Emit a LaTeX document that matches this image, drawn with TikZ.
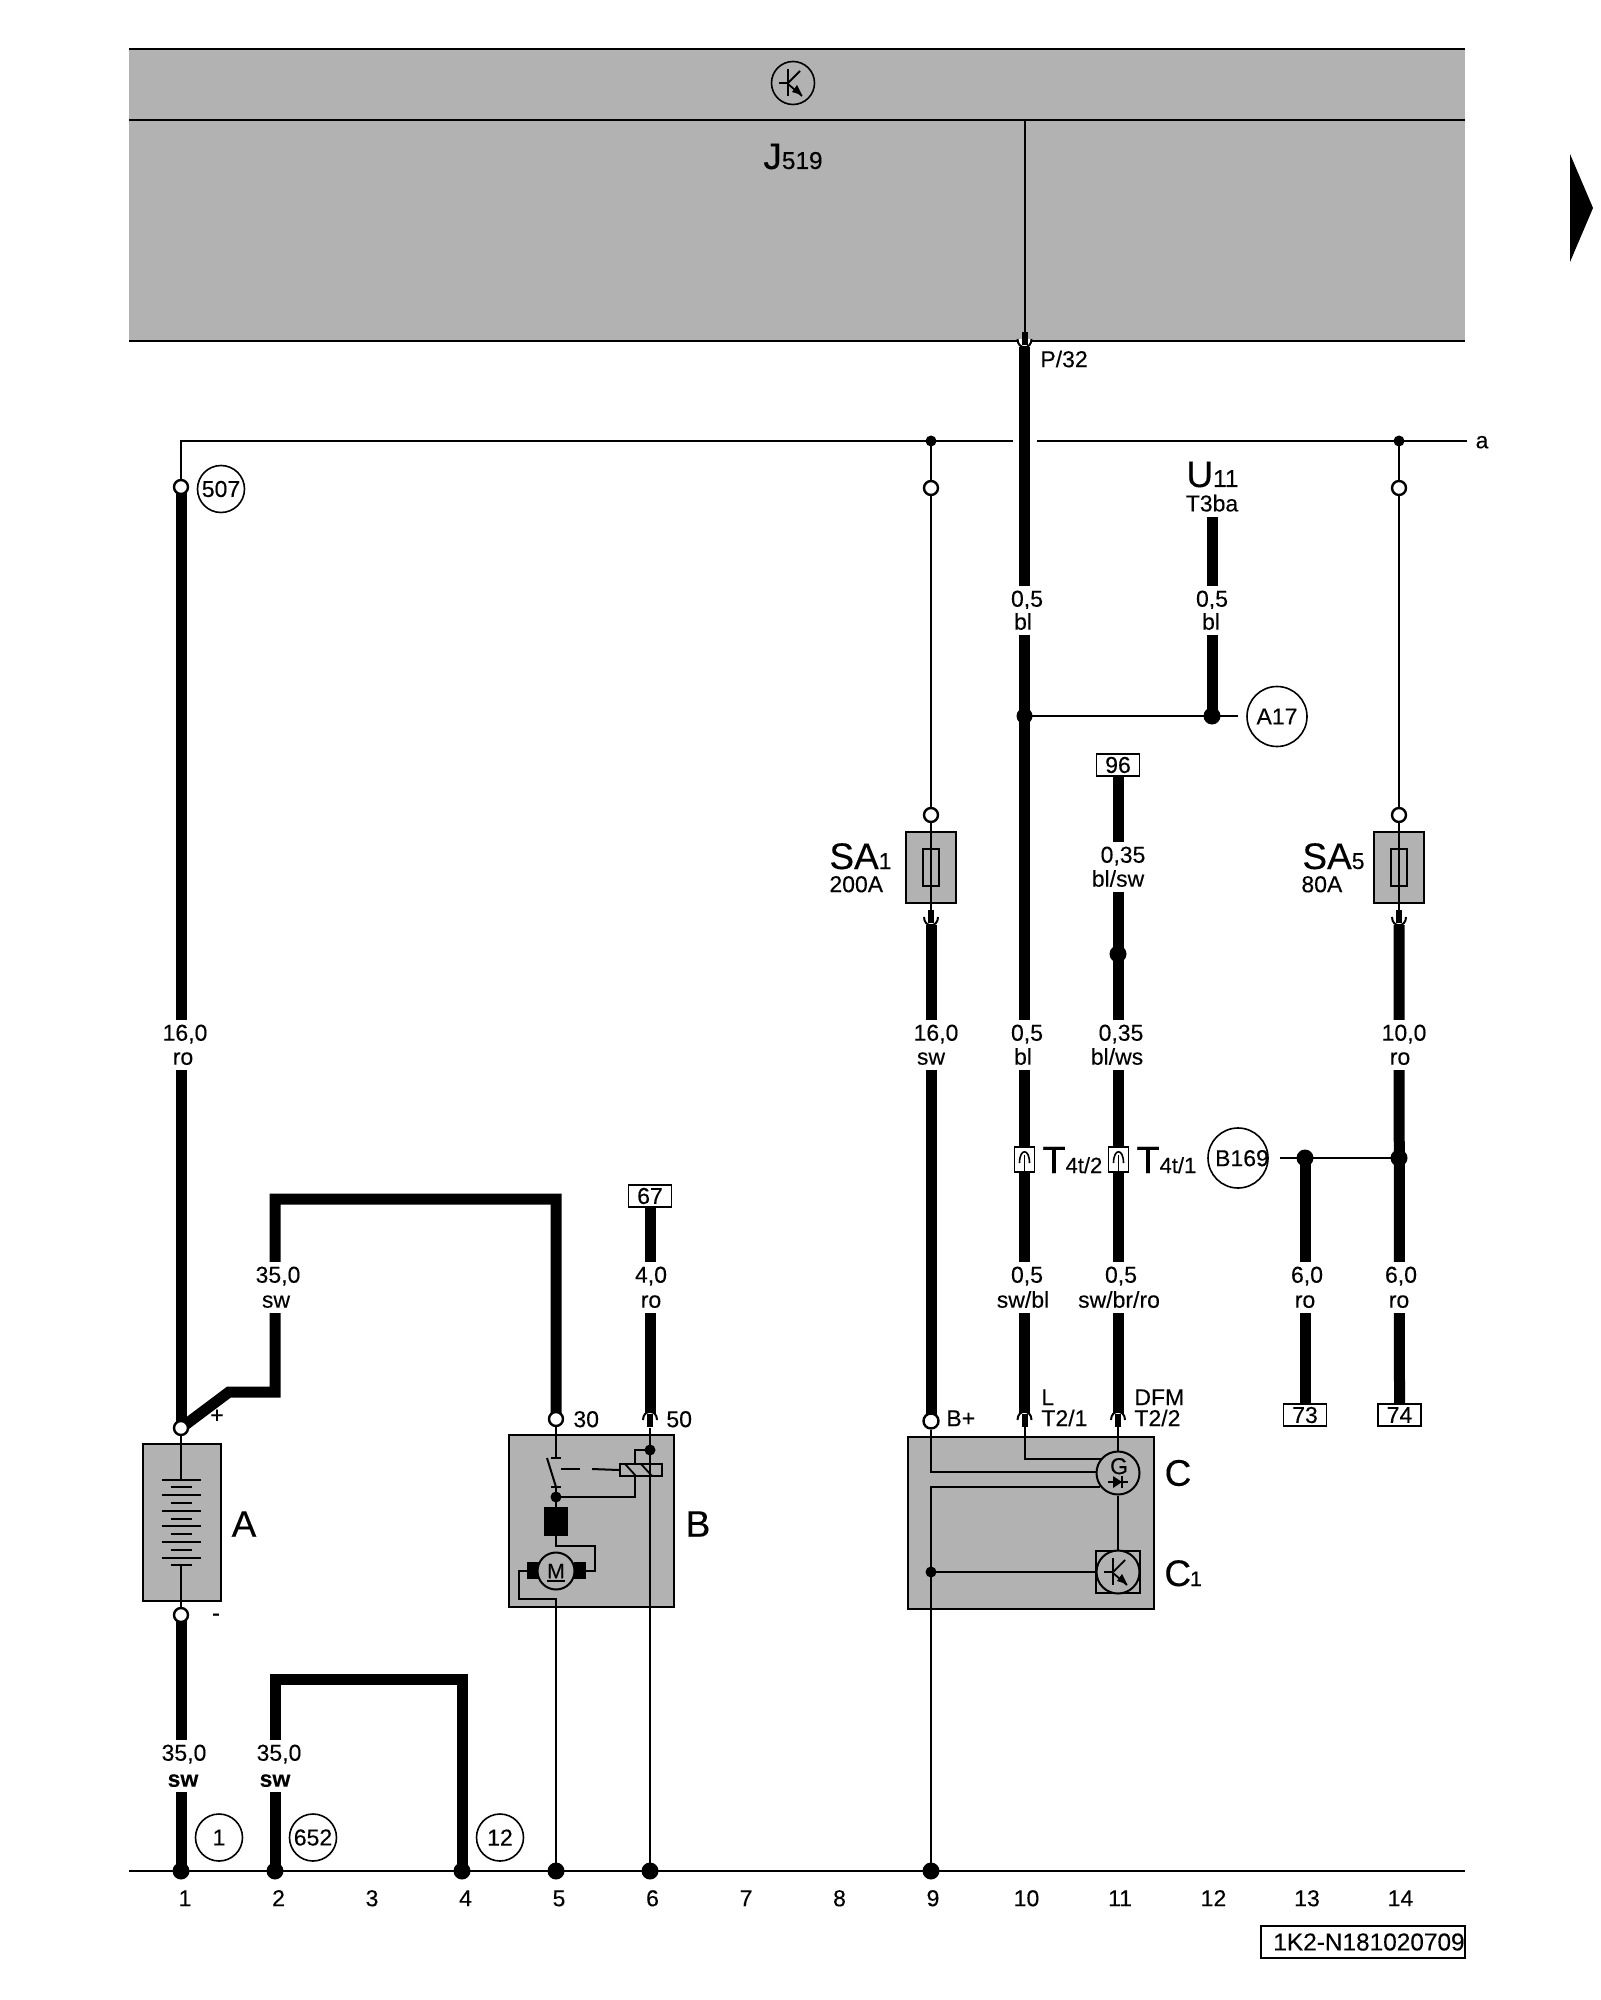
\documentclass[tikz,border=0pt]{standalone}
\usepackage{fontspec}
\setmainfont[FakeBold=0.2]{Liberation Sans}
\pgfdeclarelayer{bg}
\pgfdeclarelayer{wires}
\pgfsetlayers{bg,wires,main}
\definecolor{panel}{HTML}{B2B2B2}
\newcommand{\txtf}{\fontsize{11.5}{12.5}\selectfont}
\newcommand{\subf}{\fontsize{11}{12}\selectfont}
\newcommand{\bigf}{\fontsize{18.5}{20}\selectfont}
\tikzset{
  x=0.5pt,y=-0.5pt,
  thin wire/.style={line width=1pt,line cap=butt},
  thick wire/.style={line width=5.5pt,line cap=butt,miter limit=10},
  graybox/.style={draw=black,fill=panel,line width=1pt,inner sep=0pt},
  term/.style={circle,draw=black,fill=white,line width=1.2pt,inner sep=0pt,minimum size=7pt},
  jdot/.style={circle,fill=black,inner sep=0pt,minimum size=5.5pt},
  bdot/.style={circle,fill=black,inner sep=0pt,minimum size=8.5pt},
  refc/.style={circle,draw=black,fill=white,line width=.8pt,inner sep=0pt,minimum size=23.5pt,font=\txtf},
  bigc/.style={circle,draw=black,fill=white,line width=.8pt,inner sep=0pt,minimum size=30pt,font=\txtf},
  wl/.style={fill=white,inner xsep=0.5pt,inner ysep=.75pt,text height=9.5pt,text depth=2pt,font=\txtf,yshift=-.6pt},
  lbl/.style={inner sep=0pt,font=\txtf,yshift=-.6pt},
  big/.style={inner sep=0pt,font=\bigf,anchor=base west},
  tagbox/.style={draw=black,fill=white,line width=.9pt,inner sep=0pt,font=\txtf,minimum height=11pt},
  sym/.style={line width=.9pt,draw=black},
}
\newcommand{\WL}[7]{% name, x1, y1, text1, x2, y2, text2
  \node[wl] (#1a) at (#2,#3) {#4};
  \node[wl,yshift=.5pt] (#1b) at (#5,#6) {#7};}
\newcommand{\arch}[3]{% x, y, dir: 1 arch up, -1 cup
  \begin{scope}[shift={(#1,#2)},yscale=#3]
    \fill[white] (-7,4) .. controls (-7,-7) and (7,-7) .. (7,4) -- cycle;
    \draw[line width=1pt,black] (-7,4) .. controls (-7,-7) and (7,-7) .. (7,4);
    \fill[black] (-3,-2) rectangle (3,11);
  \end{scope}}
\newcommand{\transis}[2]{%
  \begin{scope}[shift={(#1,#2)}]
    \draw[sym] (-14,0) -- (-5,0);
    \draw[line width=1.1pt] (-5,-14) -- (-5,13);
    \draw[sym] (-5,0) -- (7,-12);
    \draw[sym] (-5,1) -- (9,13);
    \fill[black] (9,12) -- (-1,9) -- (4,2) -- cycle;
  \end{scope}}
\begin{document}
\begin{tikzpicture}
\useasboundingbox (0,0) rectangle (1600,2000);
\begin{pgfonlayer}{bg}
  \fill[white] (0,0) rectangle (1600,2000);
  \fill[panel] (129,49) rectangle (1465,341);
  \draw[line width=1.3pt] (129,49) -- (1465,49);
  \draw[line width=1.1pt] (129,120) -- (1465,120);
  \draw[line width=1.3pt] (129,341) -- (1465,341);
  \node[graybox,minimum width=39pt,minimum height=78.5pt] (A) at (182,1522.5) {};
  \node[graybox,minimum width=82.25pt,minimum height=86pt] (B) at (591.25,1521) {};
  \node[graybox,minimum width=123pt,minimum height=86pt] (C) at (1031,1523) {};
  \node[graybox,minimum width=25.2pt,minimum height=35.5pt] (SA1) at (931,867.5) {};
  \node[graybox,minimum width=25.2pt,minimum height=35.5pt] (SA5) at (1399,867.5) {};
\end{pgfonlayer}

% reference marks on the main layer
\node[refc,fill=panel,minimum size=21.5pt] (topT) at (793,83) {};
\transis{793}{83}
\node[big] (J519) at (763,169) {J\fontsize{12.2}{13}\selectfont 519};
\node[lbl,anchor=base west] (P32) at (1040,366) {P/32};
\fill[black] (1570,154) -- (1593,208) -- (1570,262) -- cycle;

% terminals, dots
\node[term] (t507) at (181,487) {};
\node[term] (tAp) at (181,1428) {};
\node[term] (tAn) at (181,1615) {};
\node[term] (tSA1i) at (931,488) {};
\node[term] (tSA1o) at (931,815) {};
\node[term] (tSA5i) at (1399,488) {};
\node[term] (tSA5o) at (1399,815) {};
\node[term] (t30) at (556,1419) {};
\node[term,minimum size=7.5pt] (tBp) at (931,1421) {};
\node[jdot] (dSA1) at (931,441) {};
\node[jdot] (dSA5) at (1399,441) {};
\node[jdot,minimum size=8pt] (d10) at (1024.5,716) {};
\node[jdot,minimum size=8.5pt] (d12) at (1212,716) {};
\node[jdot,minimum size=8.5pt] (d11) at (1118,954) {};
\node[jdot,minimum size=8.5pt] (d13) at (1305,1158) {};
\node[jdot,minimum size=8.5pt] (d14) at (1399,1158) {};
\foreach \n/\xx in {1/181,2/275,4/462,5/556,6/650,9/931}{
  \node[bdot] (g\n) at (\xx,1871) {};
}
\coordinate (gl) at (129,1871);
\coordinate (gr) at (1465,1871);
\coordinate (busA) at (181,441);
\coordinate (busG1) at (1013,441);
\coordinate (busG2) at (1037,441);
\coordinate (busE) at (1467,441);
\node[lbl] (a) at (1482,441) {a};

% reference circles
\node[refc] (c507) at (221,489) {507};
\node[refc] (c1) at (219,1837.5) {1};
\node[refc] (c652) at (313,1837.5) {652};
\node[refc] (c12) at (500,1837.5) {12};
\node[bigc] (cA17) at (1277,716.5) {A17};
\node[bigc] (cB169) at (1238,1158) {};
\node[lbl] (tB169) at (1242,1157) {B169};

% boxes with numbers
\node[tagbox,minimum width=21.5pt] (b67) at (650,1196) {67};
\node[tagbox,minimum width=21.5pt] (b96) at (1118,765) {96};
\node[tagbox,minimum width=21.5pt] (b73) at (1305,1415) {73};
\node[tagbox,minimum width=21.5pt] (b74) at (1399.5,1415) {74};
\node[tagbox,minimum width=100pt,minimum height=16pt,font=\fontsize{12.2}{13}\selectfont] (refb) at (1363,1942) {\hspace{6pt}1K2-N181020709};

% named points
\coordinate (j1) at (1024.5,120);
\coordinate (j2) at (1024.5,340);
\coordinate (p32) at (1024.5,347);
\coordinate (f10) at (1024.5,1414);
\coordinate (f11) at (1118,1414);
\coordinate (f50) at (650,1414);
\coordinate (s1) at (931,925);
\coordinate (s5) at (1399,925);
\coordinate (u11) at (1212,517);
\coordinate (x17) at (1238,716);
\coordinate (x169) at (1280,1158);

\begin{pgfonlayer}{wires}
  % thin
  \draw[thin wire] (j1) -- (j2);
  \draw[thin wire] (t507.center) -- (busA) -- (busG1);
  \draw[thin wire] (busG2) -- (busE);
  \draw[thin wire] (dSA1.center) -- (tSA1i.center) -- (tSA1o.center) -- (931,920);
  \draw[thin wire] (dSA5.center) -- (tSA5i.center) -- (tSA5o.center) -- (1399,920);
  \draw[thin wire] (d10.center) -- (x17);
  \draw[thin wire] (x169) -- (d14.center);
  \draw[thin wire] (gl) -- (gr);
  % thick
  \draw[thick wire] (t507.center) -- (tAp.center);
  \draw[thick wire] (tAn.center) -- (g1.center);
  \draw[thick wire] (tAp.center) -- (229,1392) -- (275,1392) -- (275,1199) -- (556,1199) -- (t30.center);
  \draw[thick wire] (g2.center) -- (275,1679) -- (462,1679) -- (g4.center);
  \draw[thick wire] (b67.south) -- (f50);
  \draw[thick wire] (s1) -- (tBp.center);
  \draw[thick wire] (p32) -- (f10);
  \draw[thick wire] (b96.south) -- (f11);
  \draw[thick wire] (u11) -- (d12.center);
  \draw[thick wire] (s5) -- (b74.north);
  \draw[thick wire] (d13.center) -- (b73.north);
\end{pgfonlayer}

% terminal forks
\arch{1024.5}{343}{-1}
\arch{650}{1416}{1}
\arch{1024.5}{1416}{1}
\arch{1118}{1416}{1}
\arch{931}{921}{-1}
\arch{1399}{921}{-1}

% wire labels
\WL{w1}{185}{1032}{16,0}{183}{1057}{ro}
\WL{w2}{278}{1274}{35,0}{276}{1300}{sw}
\WL{w3}{651}{1274}{4,0}{651}{1300}{ro}
\node[wl,yshift=.5pt,font=\txtf\bfseries] (w4b) at (183,1779) {sw};
\node[wl,yshift=.5pt] (w4a) at (184,1753) {35,0};
\node[wl,yshift=.5pt,font=\txtf\bfseries] (w5b) at (275,1779) {sw};
\node[wl,yshift=.5pt] (w5a) at (279,1753) {35,0};
\WL{w6}{936}{1032}{16,0}{931}{1057}{sw}
\WL{w7}{1027}{598}{0,5}{1023}{622}{bl}
\WL{w8}{1212}{598}{0,5}{1211}{622}{bl}
\WL{w9}{1123}{854}{0,35}{1118}{879}{bl/sw}
\WL{w10}{1027}{1032}{0,5}{1023}{1057}{bl}
\WL{w11}{1121}{1032}{0,35}{1117}{1057}{bl/ws}
\WL{w12}{1404}{1032}{10,0}{1400}{1057}{ro}
\WL{w13}{1027}{1274}{0,5}{1023}{1300}{sw/bl}
\WL{w14}{1121}{1274}{0,5}{1119}{1300}{sw/br/ro}
\WL{w15}{1307}{1274}{6,0}{1305}{1300}{ro}
\WL{w16}{1401}{1274}{6,0}{1399}{1300}{ro}

% column numbers
\foreach \n in {1,...,14}{
  \pgfmathsetmacro{\xx}{185+93.5*(\n-1)}
  \node[lbl,anchor=base] (n\n) at (\xx,1905) {\n};
}

% U11
\node[big] (U11) at (1186,487) {U\fontsize{12.2}{13}\selectfont 11};
\node[lbl] (T3ba) at (1212,502) {T3ba};

% fuses
\node[sym,draw=black,inner sep=0pt,minimum width=8pt,minimum height=18.5pt] (f1) at (931,867.5) {};
\node[sym,draw=black,inner sep=0pt,minimum width=8pt,minimum height=18.5pt] (f5) at (1399,867.5) {};
\draw[thin wire] (tSA1o.south) -- (931,918);
\draw[thin wire] (tSA5o.south) -- (1399,918);
\node[big] (SA1t) at (829,869) {SA\txtf 1};
\node[lbl,anchor=base west] (A200) at (829,891) {200A};
\node[big] (SA5t) at (1302,869) {SA\txtf 5};
\node[lbl,anchor=base west] (A80) at (1301,891) {80A};

% T4t connectors
\foreach \nm/\xx in {p/1024.5,q/1118.5}{
  \node[draw=black,fill=white,line width=.8pt,inner sep=0pt,minimum width=10pt,minimum height=12.5pt] (con\nm) at (\xx,1159.5) {};
  \draw[line width=.8pt] (\xx-5,1163) .. controls (\xx-5,1148) and (\xx+5,1148) .. (\xx+5,1163);
  \draw[line width=.8pt] (\xx,1155) -- (\xx,1172);
}
\node[big,font=\fontsize{19}{21}\selectfont] (T1) at (1042,1173) {T\subf 4t/2};
\node[big,font=\fontsize{19}{21}\selectfont] (T2) at (1136,1173) {T\subf 4t/1};

% battery
\node[big,anchor=center] (Al) at (244,1524) {A};
\node[lbl] (plus) at (217,1415) {+};
\node[lbl] (minus) at (216,1616) {-};
\coordinate (bt) at (181,1480);
\coordinate (bb) at (181,1565);
\draw[thin wire] (tAp.south) -- (bt);
\draw[thin wire] (bb) -- (tAn.north);
\foreach \yy in {1480,1495,1511,1526,1542,1558}{\draw[sym] (161.5,\yy) -- (200.5,\yy);}
\foreach \yy in {1487,1503,1519,1534,1550,1565}{\draw[sym] (170.5,\yy) -- (191.5,\yy);}

% starter B
\node[big,anchor=center] (Bl) at (698,1524) {B};
\node[lbl,anchor=west] (l30) at (573,1418) {30};
\node[lbl,anchor=west] (l50) at (666,1418) {50};
\node[jdot] (bd1) at (650,1450) {};
\node[jdot] (bd2) at (556,1497) {};
\node[sym,fill=panel,inner sep=0pt,minimum width=21.25pt,minimum height=6pt] (relay) at (641,1470) {};
\draw[sym] (625,1464) -- (636,1476) (641,1464) -- (652,1476);
\node[fill=black,inner sep=0pt,minimum width=12pt,minimum height=14.5pt] (field) at (556,1521.5) {};
\fill[black] (527,1562) rectangle (539,1579);
\fill[black] (574,1562) rectangle (586,1579);
\node[circle,draw=black,fill=panel,line width=1pt,inner sep=0pt,minimum size=18.5pt,font=\fontsize{10.5}{11}\selectfont] (M) at (556,1571) {M};
\draw[sym] (547,1581) -- (565,1581);
\draw[thin wire] (t30.south) -- (556,1458);
\draw[thin wire] (551,1458) -- (561,1458);
\draw[thin wire] (547,1458) -- (556,1487);
\draw[thin wire] (551,1487) -- (561,1487);
\draw[thin wire] (556,1487) -- (bd2.center) -- (field.north);
\draw[thin wire] (561,1469) -- (580,1469);
\draw[thin wire] (592,1469) -- (relay.west);
\draw[thin wire] (650,1428) -- (g6.center);
\draw[thin wire] (bd1.center) -- (635,1450) -- (635,1464);
\draw[thin wire] (635,1476) -- (635,1497) -- (bd2.center);
\draw[thin wire] (field.south) -- (556,1546) -- (595,1546) -- (595,1571) -- (586,1571);
\draw[thin wire] (527,1571) -- (519,1571) -- (519,1599) -- (556,1599) -- (g5.center);

% generator C
\node[big,anchor=center] (Cl) at (1178,1473) {C};
\node[big,anchor=base west] (C1l) at (1164,1586) {C\hspace{-.5pt}\fontsize{10.5}{12}\selectfont 1};
\node[lbl,anchor=base west] (lBp) at (946,1425) {B+};
\node[lbl,anchor=base west] (lL) at (1041,1404) {L};
\node[lbl,anchor=base west] (lT21) at (1041,1425) {T2/1};
\node[lbl,anchor=base west] (lDFM) at (1134,1404) {DFM};
\node[lbl,anchor=base west] (lT22) at (1134,1425) {T2/2};
\node[jdot] (cd) at (931,1572) {};
\node[draw=black,fill=panel,line width=1pt,inner sep=0pt,minimum width=22pt,minimum height=21pt] (Csq) at (1118,1572) {};
\node[circle,draw=black,fill=panel,line width=1pt,inner sep=0pt,minimum size=21.5pt] (Cc1) at (1118,1572) {};
\node[circle,draw=black,fill=panel,line width=1pt,inner sep=0pt,minimum size=21.5pt] (Gc) at (1118,1473) {};
\node[lbl] (G) at (1119,1465) {G};
\transis{1118}{1572}
\draw[sym] (1108,1482) -- (1128,1482);
\fill[black] (1113,1476) -- (1122,1482) -- (1113,1488) -- cycle;
\draw[sym] (1122,1476) -- (1122,1488);
\draw[thin wire] (tBp.south) -- (931,1472) -- (1097,1472);
\draw[thin wire] (1100,1487) -- (931,1487) -- (g9.center);
\draw[thin wire] (cd.center) -- (Cc1.west);
\draw[thin wire] (1024.5,1425) -- (1024.5,1459) -- (1101,1459);
\draw[thin wire] (1118,1425) -- (Gc.north);
\draw[thin wire] (Gc.south) -- (Cc1.north);
\end{tikzpicture}
\end{document}
